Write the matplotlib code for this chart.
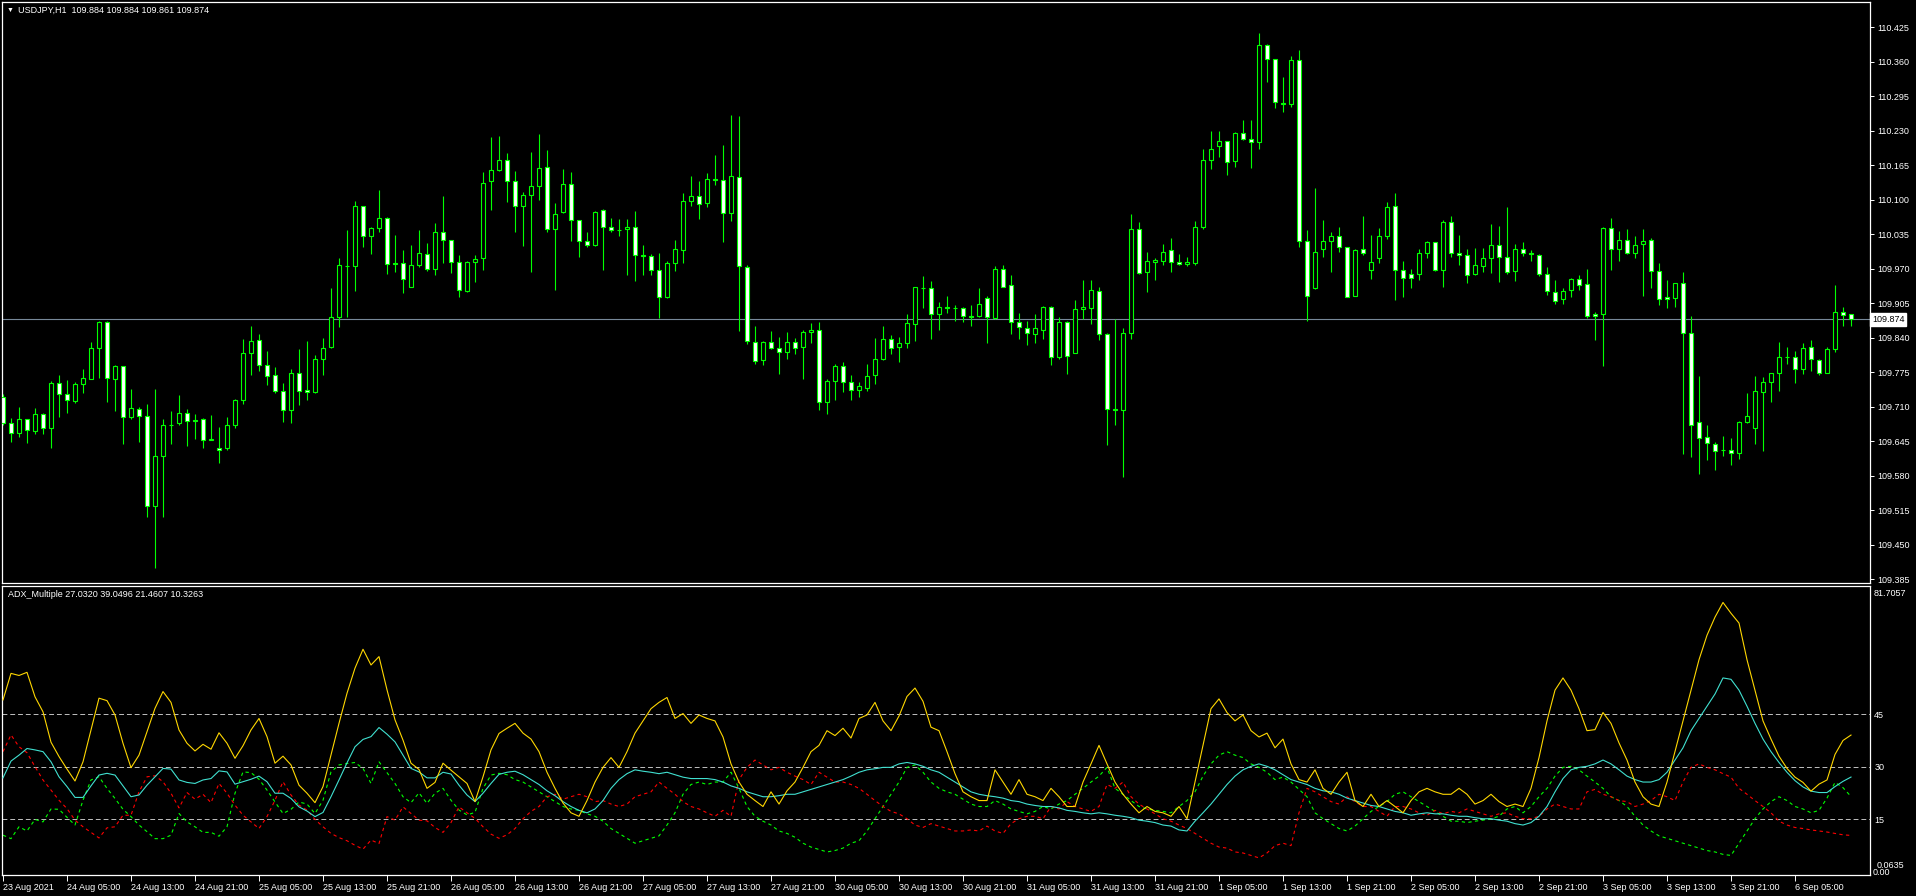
import numpy as np
import matplotlib
matplotlib.use("Agg")
from matplotlib import pyplot as plt

# USDJPY H1, 23 Aug 2021 21:00 .. 6 Sep 12:00
opens = [109.727, 109.678, 109.661, 109.686, 109.663, 109.695, 109.669, 109.754, 109.733, 109.721,
         109.752, 109.761, 109.820, 109.869, 109.761, 109.786, 109.690, 109.705, 109.692, 109.523,
         109.616, 109.676, 109.678, 109.697, 109.684, 109.686, 109.646, 109.632, 109.631, 109.676,
         109.722, 109.810, 109.835, 109.788, 109.769, 109.740, 109.703, 109.773, 109.742, 109.737,
         109.799, 109.822, 109.878, 109.974, 109.974, 110.087, 110.031, 110.046, 110.066, 109.980,
         109.980, 109.936, 109.976, 109.997, 109.970, 110.038, 110.023, 109.982, 109.927, 109.982,
         109.989, 110.134, 110.155, 110.174, 110.134, 110.087, 110.108, 110.125, 110.162, 110.044,
         110.076, 110.129, 110.061, 110.021, 110.014, 110.080, 110.048, 110.042, 110.044, 110.048,
         109.995, 109.993, 109.968, 109.916, 109.980, 110.004, 110.097, 110.106, 110.093, 110.138,
         110.136, 110.074, 110.142, 109.972, 109.831, 109.797, 109.831, 109.820, 109.812, 109.831,
         109.822, 109.850, 109.854, 109.718, 109.759, 109.786, 109.756, 109.742, 109.744, 109.769,
         109.799, 109.837, 109.822, 109.829, 109.865, 109.934, 109.933, 109.884, 109.897, 109.895,
         109.895, 109.880, 109.880, 109.914, 109.876, 109.970, 109.938, 109.870, 109.857, 109.846,
         109.855, 109.898, 109.803, 109.870, 109.810, 109.893, 109.895, 109.927, 109.846, 109.705,
         109.703, 109.848, 110.044, 109.963, 109.982, 109.984, 110.004, 109.982, 109.978, 109.980,
         110.049, 110.174, 110.200, 110.210, 110.172, 110.225, 110.214, 110.208, 110.392, 110.364,
         110.281, 110.279, 110.362, 110.021, 109.933, 110.006, 110.021, 110.032, 110.010, 109.919,
         110.006, 109.968, 109.989, 110.031, 110.087, 109.968, 109.959, 109.959, 110.000, 110.019,
         109.968, 110.057, 109.999, 109.995, 109.959, 109.974, 109.989, 110.014, 109.991, 109.965,
         110.006, 109.999, 109.995, 109.959, 109.925, 109.912, 109.929, 109.951, 109.940, 109.884,
         109.884, 110.046, 110.006, 110.023, 109.999, 110.016, 110.023, 109.965, 109.916, 109.914,
         109.942, 109.848, 109.680, 109.652, 109.639, 109.629, 109.629, 109.622, 109.680, 109.669,
         109.738, 109.757, 109.773, 109.803, 109.803, 109.780, 109.822, 109.797, 109.774, 109.818,
         109.889, 109.884]
highs = [109.734, 109.688, 109.709, 109.686, 109.707, 109.698, 109.759, 109.769, 109.760, 109.757,
         109.781, 109.832, 109.872, 109.872, 109.788, 109.786, 109.743, 109.709, 109.715, 109.743,
         109.686, 109.702, 109.732, 109.705, 109.695, 109.688, 109.694, 109.671, 109.690, 109.724,
         109.837, 109.862, 109.846, 109.815, 109.784, 109.754, 109.781, 109.818, 109.833, 109.807,
         109.839, 109.933, 109.990, 110.043, 110.097, 110.088, 110.048, 110.118, 110.067, 110.033,
         110.005, 110.014, 110.043, 110.018, 110.055, 110.107, 110.024, 109.995, 109.984, 109.995,
         110.151, 110.218, 110.220, 110.188, 110.154, 110.115, 110.189, 110.223, 110.193, 110.093,
         110.157, 110.152, 110.061, 110.039, 110.078, 110.082, 110.065, 110.063, 110.063, 110.078,
         110.014, 109.997, 109.999, 109.984, 110.024, 110.112, 110.144, 110.135, 110.150, 110.184,
         110.203, 110.259, 110.257, 109.976, 109.862, 109.833, 109.852, 109.841, 109.850, 109.839,
         109.855, 109.867, 109.869, 109.761, 109.791, 109.793, 109.769, 109.757, 109.790, 109.839,
         109.861, 109.844, 109.841, 109.884, 109.936, 109.955, 109.946, 109.906, 109.919, 109.902,
         109.897, 109.902, 109.933, 109.919, 109.974, 109.976, 109.957, 109.887, 109.872, 109.885,
         109.899, 109.900, 109.878, 109.871, 109.910, 109.948, 109.948, 109.936, 109.848, 109.874,
         109.857, 110.072, 110.057, 110.002, 109.989, 110.016, 110.027, 109.997, 109.991, 110.059,
         110.195, 110.230, 110.230, 110.210, 110.227, 110.249, 110.249, 110.413, 110.393, 110.365,
         110.330, 110.370, 110.381, 110.042, 110.121, 110.061, 110.038, 110.048, 110.010, 110.006,
         110.068, 110.034, 110.046, 110.095, 110.112, 109.985, 109.970, 110.006, 110.021, 110.020,
         110.061, 110.068, 110.034, 110.006, 110.008, 110.008, 110.053, 110.051, 110.085, 110.017,
         110.019, 110.004, 109.997, 109.972, 109.948, 109.934, 109.953, 109.957, 109.970, 109.889,
         110.048, 110.065, 110.040, 110.044, 110.031, 110.044, 110.027, 109.980, 109.948, 109.943,
         109.963, 109.880, 109.767, 109.676, 109.644, 109.654, 109.650, 109.682, 109.735, 109.767,
         109.765, 109.774, 109.831, 109.822, 109.814, 109.829, 109.835, 109.799, 109.822, 109.938,
         109.897, 109.884]
lows = [109.676, 109.644, 109.653, 109.641, 109.658, 109.659, 109.632, 109.691, 109.698, 109.716,
        109.736, 109.761, 109.764, 109.719, 109.702, 109.640, 109.686, 109.644, 109.502, 109.406,
        109.501, 109.640, 109.676, 109.636, 109.648, 109.631, 109.646, 109.604, 109.629, 109.670,
        109.714, 109.770, 109.776, 109.751, 109.735, 109.681, 109.678, 109.712, 109.723, 109.735,
        109.770, 109.820, 109.860, 109.879, 109.928, 110.011, 109.998, 110.038, 109.960, 109.964,
        109.923, 109.936, 109.973, 109.966, 109.957, 109.980, 109.962, 109.917, 109.925, 109.945,
        109.968, 110.081, 110.154, 110.096, 110.039, 110.013, 109.964, 110.100, 110.039, 109.930,
        110.074, 110.022, 109.992, 110.010, 110.013, 109.968, 110.038, 110.032, 109.957, 109.947,
        109.957, 109.958, 109.877, 109.915, 109.966, 109.980, 110.088, 110.064, 110.085, 110.128,
        110.019, 110.060, 109.853, 109.827, 109.791, 109.788, 109.818, 109.771, 109.799, 109.808,
        109.761, 109.829, 109.703, 109.695, 109.722, 109.737, 109.722, 109.727, 109.739, 109.752,
        109.798, 109.808, 109.793, 109.820, 109.833, 109.895, 109.837, 109.854, 109.887, 109.872,
        109.870, 109.861, 109.879, 109.829, 109.875, 109.935, 109.846, 109.838, 109.825, 109.829,
        109.838, 109.789, 109.799, 109.771, 109.810, 109.874, 109.865, 109.835, 109.638, 109.675,
        109.578, 109.837, 109.959, 109.925, 109.948, 109.976, 109.963, 109.977, 109.974, 109.977,
        110.044, 110.157, 110.181, 110.147, 110.162, 110.212, 110.159, 110.195, 110.321, 110.272,
        110.264, 110.274, 110.010, 109.872, 109.932, 109.991, 109.963, 110.002, 109.917, 109.919,
        109.995, 109.950, 109.980, 110.025, 109.910, 109.917, 109.934, 109.949, 109.989, 109.965,
        109.936, 109.991, 109.976, 109.942, 109.957, 109.963, 109.961, 109.944, 109.959, 109.946,
        109.993, 109.984, 109.955, 109.921, 109.904, 109.904, 109.916, 109.929, 109.876, 109.835,
        109.786, 109.967, 109.984, 109.997, 109.989, 109.919, 109.933, 109.901, 109.895, 109.897,
        109.620, 109.614, 109.582, 109.609, 109.590, 109.616, 109.599, 109.612, 109.678, 109.639,
        109.627, 109.719, 109.739, 109.791, 109.755, 109.771, 109.776, 109.769, 109.773, 109.812,
        109.862, 109.861]
closes = [109.678, 109.661, 109.686, 109.665, 109.695, 109.669, 109.754, 109.733, 109.722, 109.752,
          109.763, 109.820, 109.869, 109.763, 109.786, 109.690, 109.707, 109.692, 109.523, 109.617,
          109.676, 109.676, 109.697, 109.682, 109.683, 109.646, 109.648, 109.629, 109.676, 109.722,
          109.810, 109.833, 109.788, 109.767, 109.740, 109.703, 109.773, 109.740, 109.737, 109.799,
          109.820, 109.878, 109.976, 109.974, 110.087, 110.031, 110.046, 110.066, 109.978, 109.978,
          109.950, 109.976, 109.999, 109.970, 110.038, 110.023, 109.982, 109.929, 109.982, 109.987,
          110.132, 110.155, 110.174, 110.134, 110.087, 110.108, 110.125, 110.159, 110.044, 110.072,
          110.129, 110.061, 110.021, 110.014, 110.076, 110.049, 110.042, 110.042, 110.048, 109.995,
          109.994, 109.968, 109.916, 109.980, 110.006, 110.097, 110.106, 110.091, 110.138, 110.137,
          110.074, 110.144, 109.974, 109.833, 109.795, 109.831, 109.820, 109.812, 109.831, 109.820,
          109.850, 109.855, 109.718, 109.759, 109.786, 109.757, 109.742, 109.748, 109.767, 109.799,
          109.837, 109.820, 109.829, 109.867, 109.935, 109.933, 109.884, 109.897, 109.896, 109.895,
          109.880, 109.879, 109.904, 109.878, 109.970, 109.936, 109.870, 109.859, 109.848, 109.857,
          109.898, 109.803, 109.870, 109.806, 109.893, 109.897, 109.929, 109.846, 109.705, 109.704,
          109.848, 110.044, 109.961, 109.984, 109.986, 110.002, 109.982, 109.978, 109.982, 110.049,
          110.174, 110.196, 110.210, 110.170, 110.225, 110.214, 110.208, 110.392, 110.364, 110.283,
          110.280, 110.362, 110.021, 109.919, 110.002, 110.021, 110.032, 110.010, 109.917, 110.004,
          109.999, 109.982, 110.031, 110.085, 109.968, 109.953, 109.953, 110.000, 110.019, 109.967,
          110.057, 109.999, 109.995, 109.957, 109.976, 109.989, 110.014, 109.991, 109.963, 110.006,
          109.999, 109.997, 109.959, 109.927, 109.908, 109.927, 109.951, 109.938, 109.880, 109.880,
          110.046, 110.006, 110.023, 109.999, 110.014, 110.021, 109.965, 109.912, 109.912, 109.942,
          109.848, 109.676, 109.650, 109.641, 109.627, 109.628, 109.622, 109.680, 109.693, 109.740,
          109.757, 109.773, 109.803, 109.803, 109.780, 109.820, 109.799, 109.773, 109.818, 109.889,
          109.882, 109.874]

# ADX_Multiple buffers (cyan ADX, gold fast ADX, green +DI, red -DI)
adx_main = [26.8, 31.6, 33.3, 35.2, 34.8, 34.3, 31.4, 27.1, 24.3, 21.2, 21.2, 24.5, 27.6, 28.1, 27.6,
            24.5, 21.4, 21.9, 24.7, 27.1, 29.5, 29.3, 26.2, 25.5, 25.2, 26.2, 26.6, 28.8, 28.5, 25.0,
            25.7, 26.4, 27.3, 25.7, 22.4, 22.4, 20.9, 18.5, 17.3, 15.7, 16.9, 21.4, 26.2, 31.1, 35.7,
            37.8, 38.6, 41.2, 39.3, 37.1, 33.3, 29.5, 28.5, 26.8, 26.8, 28.4, 27.9, 24.7, 21.9, 20.0,
            22.4, 25.2, 27.8, 28.4, 28.7, 27.7, 26.3, 24.9, 23.1, 21.7, 20.0, 18.6, 17.5, 16.8, 17.9,
            20.3, 23.8, 26.3, 28.0, 29.1, 28.7, 28.4, 28.0, 28.4, 27.7, 27.0, 26.6, 26.6, 26.6, 26.3,
            25.6, 24.5, 23.8, 22.8, 22.1, 21.4, 21.4, 21.7, 22.1, 22.1, 22.8, 23.5, 24.2, 24.9, 25.6,
            26.3, 27.3, 28.4, 29.1, 29.4, 29.8, 29.8, 30.8, 31.2, 30.8, 30.1, 29.1, 28.4, 27.0, 25.6,
            24.2, 22.8, 22.1, 21.7, 21.4, 21.0, 20.3, 20.0, 19.3, 18.9, 18.6, 18.6, 18.2, 17.5, 17.2,
            16.8, 16.5, 16.8, 16.5, 16.1, 15.8, 15.4, 14.7, 14.4, 14.0, 13.3, 13.0, 11.9, 11.6, 14.4,
            16.8, 19.3, 22.1, 24.9, 27.3, 29.1, 30.1, 30.8, 30.1, 29.1, 27.7, 26.3, 25.6, 24.9, 23.8,
            23.1, 22.8, 22.1, 21.0, 20.3, 19.6, 18.9, 18.6, 17.9, 17.2, 16.8, 16.1, 16.5, 16.8, 16.5,
            16.5, 16.1, 15.8, 15.8, 15.4, 15.1, 15.1, 14.7, 14.4, 13.7, 13.3, 14.0, 15.8, 18.6, 22.8,
            26.6, 29.1, 29.8, 30.1, 30.8, 31.9, 30.8, 29.1, 27.3, 26.3, 25.6, 25.6, 26.3, 28.4, 31.9,
            35.4, 40.3, 43.8, 47.3, 50.8, 55.4, 55.0, 51.9, 47.3, 42.4, 37.9, 34.3, 31.2, 28.4, 26.0,
            24.2, 23.0, 22.6, 22.6, 24.3, 25.8, 27.032]
adx_fast = [49.1, 56.7, 56.1, 57.0, 50.0, 45.7, 37.0, 32.9, 29.3, 25.9, 31.4, 40.5, 49.6, 48.9, 44.8,
            36.7, 29.7, 33.3, 40.0, 46.7, 51.5, 48.4, 40.5, 36.7, 34.5, 36.4, 35.0, 39.7, 36.7, 32.4,
            36.0, 40.5, 43.8, 38.6, 31.0, 33.0, 30.5, 24.7, 22.4, 19.7, 24.3, 33.3, 42.4, 51.0, 58.2,
            63.6, 59.1, 61.5, 52.0, 43.4, 37.6, 31.0, 29.2, 23.8, 25.5, 31.0, 29.0, 27.1, 25.2, 20.0,
            27.1, 34.8, 39.5, 41.0, 42.4, 39.6, 37.9, 34.3, 28.4, 23.8, 19.6, 16.8, 15.8, 20.3, 25.6,
            29.8, 32.6, 29.8, 34.3, 39.6, 43.1, 46.6, 48.4, 49.8, 43.8, 45.2, 42.4, 44.8, 43.8, 43.1,
            38.5, 30.8, 25.6, 22.1, 20.3, 18.6, 22.8, 19.3, 23.1, 25.6, 29.8, 34.3, 36.1, 40.3, 38.9,
            41.0, 38.2, 43.8, 44.8, 48.4, 43.1, 40.3, 44.5, 50.1, 52.5, 48.7, 41.3, 40.3, 34.3, 28.0,
            22.8, 21.4, 20.3, 20.3, 29.1, 25.6, 22.1, 26.3, 22.1, 21.4, 20.3, 23.8, 21.4, 18.6, 18.6,
            25.6, 30.8, 36.1, 30.8, 25.6, 22.1, 19.3, 16.8, 18.6, 17.2, 16.8, 15.8, 18.6, 15.1, 25.6,
            36.1, 46.6, 49.4, 45.5, 43.1, 44.8, 40.3, 38.5, 39.6, 35.4, 37.9, 30.8, 26.3, 25.6, 29.1,
            23.8, 22.1, 25.6, 28.4, 20.3, 18.6, 22.1, 18.6, 20.3, 18.6, 16.8, 20.3, 22.8, 23.8, 22.8,
            22.1, 22.1, 23.8, 22.1, 19.3, 20.3, 22.1, 20.0, 18.6, 19.3, 18.6, 23.8, 32.6, 43.1, 51.9,
            55.4, 51.9, 46.6, 40.3, 40.6, 45.5, 42.4, 36.8, 31.9, 25.6, 21.4, 19.3, 18.6, 25.6, 34.3,
            43.1, 51.9, 60.6, 67.6, 72.8, 77.0, 73.9, 71.1, 60.6, 51.9, 43.1, 37.9, 33.0, 29.5, 27.0,
            25.5, 23.0, 25.0, 26.2, 33.5, 37.5, 39.0496]
plus_di = [10.4, 9.4, 12.8, 11.6, 14.9, 14.2, 17.9, 17.8, 15.5, 13.3, 20.4, 26.2, 27.1, 23.8, 20.9,
           17.8, 15.7, 13.3, 11.4, 9.4, 9.4, 10.4, 16.6, 14.2, 12.8, 11.2, 11.2, 10.1, 12.8, 22.4,
           28.5, 28.3, 26.4, 23.3, 19.9, 16.6, 17.8, 19.9, 19.3, 16.6, 20.4, 28.5, 30.5, 30.9, 31.2,
           29.5, 25.2, 31.4, 28.3, 25.2, 21.4, 19.7, 22.5, 19.5, 22.4, 23.8, 20.4, 17.6, 16.2, 16.9,
           23.8, 27.6, 28.1, 27.7, 26.3, 25.6, 24.2, 22.8, 21.4, 20.0, 18.6, 17.9, 17.5, 16.5, 15.8,
           14.4, 12.3, 10.9, 9.5, 8.1, 8.8, 9.5, 10.2, 13.3, 16.8, 22.1, 24.9, 25.6, 24.9, 25.6,
           25.6, 28.4, 23.8, 18.6, 15.8, 14.4, 13.3, 11.6, 10.9, 9.8, 8.1, 7.0, 6.3, 5.6, 6.0,
           6.7, 8.1, 8.8, 11.6, 15.1, 18.6, 22.1, 25.6, 29.8, 30.5, 28.4, 25.6, 23.8, 22.8, 22.1,
           20.7, 19.3, 18.6, 18.6, 20.3, 19.3, 17.9, 17.2, 16.5, 17.2, 18.6, 17.9, 19.3, 20.3, 22.1,
           23.8, 25.6, 27.3, 29.8, 23.8, 22.1, 20.3, 18.6, 17.9, 17.5, 17.2, 16.8, 18.6, 20.3, 22.8,
           27.3, 30.8, 33.3, 34.3, 33.3, 32.6, 30.8, 29.8, 28.4, 26.3, 27.0, 25.6, 23.5, 21.4, 16.8,
           15.1, 13.7, 12.3, 11.6, 13.0, 15.1, 17.2, 18.6, 20.0, 22.1, 22.8, 21.4, 20.0, 18.6, 17.2,
           15.8, 14.4, 14.4, 14.0, 14.4, 14.7, 15.1, 15.8, 17.9, 18.6, 16.8, 18.6, 21.4, 23.8, 27.3,
           29.8, 30.1, 29.1, 27.3, 25.6, 23.8, 21.4, 20.3, 18.6, 15.8, 13.3, 11.6, 10.2, 9.5, 8.8,
           8.1, 7.4, 6.7, 6.0, 5.6, 4.9, 4.6, 8.1, 11.6, 15.1, 17.9, 20.0, 21.4, 20.3, 18.6,
           17.9, 16.8, 17.5, 21.0, 25.5, 24.0, 21.4607]
minus_di = [34.3, 39.1, 35.7, 34.0, 30.0, 26.2, 23.3, 20.4, 18.0, 14.7, 12.8, 11.2, 9.6, 12.5, 12.8,
            16.1, 16.1, 22.8, 27.1, 27.4, 25.7, 22.4, 18.2, 22.6, 20.7, 22.1, 19.7, 25.2, 22.4, 19.0,
            16.1, 14.2, 12.3, 15.7, 20.4, 25.7, 21.9, 19.0, 17.6, 14.9, 12.8, 10.9, 9.7, 8.8, 7.5,
            6.4, 9.0, 8.0, 15.7, 14.7, 18.5, 16.6, 14.7, 14.5, 12.6, 11.2, 14.0, 18.5, 16.8, 15.2,
            12.8, 10.7, 9.5, 10.5, 12.3, 15.1, 17.2, 18.6, 21.4, 22.1, 20.7, 21.4, 22.1, 21.4, 20.0,
            20.3, 19.3, 18.6, 19.3, 21.4, 22.1, 22.8, 25.6, 23.8, 22.1, 20.0, 18.6, 17.9, 16.8, 15.8,
            17.5, 15.8, 26.3, 29.8, 31.9, 30.5, 29.1, 29.8, 28.4, 27.3, 26.3, 24.9, 28.4, 27.0, 25.6,
            25.6, 24.9, 23.8, 22.1, 20.3, 18.6, 17.2, 16.5, 15.1, 13.3, 12.6, 13.7, 13.0, 12.3, 11.6,
            11.6, 11.9, 11.6, 13.0, 11.6, 10.9, 13.7, 15.1, 15.8, 15.8, 15.1, 18.6, 17.9, 20.0, 18.6,
            17.9, 17.2, 18.6, 24.9, 23.8, 25.6, 21.4, 19.3, 17.9, 16.5, 15.1, 14.4, 13.3, 12.3, 10.9,
            9.5, 8.1, 7.0, 6.7, 5.6, 5.3, 4.6, 3.9, 5.3, 7.4, 8.1, 7.4, 16.8, 23.8, 22.8,
            21.4, 20.0, 19.3, 21.4, 20.0, 18.6, 18.6, 17.2, 15.8, 18.6, 18.6, 17.9, 16.8, 16.1, 17.5,
            16.5, 17.2, 16.8, 17.9, 17.2, 16.5, 15.8, 16.5, 16.8, 15.8, 15.1, 15.1, 15.8, 17.9, 19.3,
            18.6, 17.9, 17.9, 22.8, 23.5, 22.1, 21.4, 20.3, 20.0, 18.6, 19.3, 20.3, 22.1, 21.4, 20.3,
            25.6, 29.8, 30.8, 29.8, 29.1, 28.0, 27.0, 23.8, 22.1, 20.3, 18.6, 16.8, 14.4, 13.3, 12.6,
            12.3, 11.9, 11.6, 11.3, 10.9, 10.5, 10.3263]

time_labels = ["23 Aug 2021", "24 Aug 05:00", "24 Aug 13:00", "24 Aug 21:00", "25 Aug 05:00",
               "25 Aug 13:00", "25 Aug 21:00", "26 Aug 05:00", "26 Aug 13:00", "26 Aug 21:00",
               "27 Aug 05:00", "27 Aug 13:00", "27 Aug 21:00", "30 Aug 05:00", "30 Aug 13:00",
               "30 Aug 21:00", "31 Aug 05:00", "31 Aug 13:00", "31 Aug 21:00", "1 Sep 05:00",
               "1 Sep 13:00", "1 Sep 21:00", "2 Sep 05:00", "2 Sep 13:00", "2 Sep 21:00",
               "3 Sep 05:00", "3 Sep 13:00", "3 Sep 21:00", "6 Sep 05:00"]
price_ticks = [110.425, 110.360, 110.295, 110.230, 110.165, 110.100, 110.035, 109.970, 109.905,
               109.840, 109.775, 109.710, 109.645, 109.580, 109.515, 109.450, 109.385]
adx_levels = [15, 30, 45]
last_price = 109.874

plt.rcParams['font.family'] = ['Liberation Sans', 'DejaVu Sans']
plt.rcParams['font.size'] = 6.5
W, H = 1916, 896
fig = plt.figure(figsize=(W / 100, H / 100), dpi=100, facecolor='black')

def box(top, bottom):
    # pixel rows -> figure fraction
    return [2 / W, 1 - bottom / H, 1868 / W, (bottom - top) / H]

ax = fig.add_axes(box(2, 583), facecolor='black')
ax2 = fig.add_axes(box(586, 875), facecolor='black')

o = np.array(opens); c = np.array(closes)
x = np.arange(len(o))
up = c >= o
lime = '#00ff00'

ax.vlines(x, lows, highs, color=lime, lw=0.8, zorder=2)
ax.bar(x, np.abs(c - o), bottom=np.minimum(o, c), width=0.55,
       color=np.where(up, 'black', 'white'), edgecolor=lime, linewidth=0.8, zorder=3)
ax.axhline(last_price, color='#778899', lw=0.8, zorder=1)

ax.set_xlim(-0.125, 233.375)
ax.set_ylim(109.3775, 110.4721)
ax.set_xticks([])
ax.yaxis.tick_right()
ax.set_yticks(price_ticks)
ax.set_yticklabels(['%.3f' % p for p in price_ticks])
ax.tick_params(axis='y', colors='white', length=3, width=0.7, pad=2, labelsize=6.5)
ax.text(1.001, last_price, '%.3f' % last_price, transform=ax.get_yaxis_transform(),
        color='black', va='center', ha='left', fontsize=6.5,
        bbox=dict(facecolor='white', edgecolor='white', pad=1.2))

for a in (ax, ax2):
    for s in a.spines.values():
        s.set_color('white')
        s.set_linewidth(0.9)

# indicator pane
for lv in adx_levels:
    ax2.axhline(lv, color='#c0c0c0', lw=0.7, linestyle=(0, (5, 3)), zorder=1)
ax2.plot(x, adx_main, color='#40e0d0', lw=0.8, zorder=3)
ax2.plot(x, adx_fast, color='#ffd700', lw=0.8, zorder=4)
ax2.plot(x, plus_di, color=lime, lw=0.8, linestyle=(0, (3, 3)), zorder=2)
ax2.plot(x, minus_di, color='#ff0000', lw=0.8, linestyle=(0, (3, 3)), zorder=2)
ax2.set_xlim(-0.125, 233.375)
ax2.set_ylim(-1.0, 81.7057)
ax2.yaxis.tick_right()
ax2.set_yticks(adx_levels)
ax2.set_yticklabels([str(v) for v in adx_levels])
ax2.tick_params(axis='y', colors='white', length=0, pad=3, labelsize=6.5)
ax2.set_xticks(range(0, len(o), 8))
ax2.set_xticklabels(time_labels, ha='left')
ax2.tick_params(axis='x', colors='white', length=4, width=0.7, pad=2, labelsize=6.5)
yt = ax2.get_yaxis_transform()
ax2.text(1.002, 79.6, '81.7057', transform=yt, color='white', va='center', ha='left')
ax2.text(1.0015, -0.2, '0.00', transform=yt, color='white', va='center', ha='left')
ax2.text(1.0035, 1.6, '0.0635', transform=yt, color='white', va='center', ha='left')

fig.text(7 / W, 1 - 10 / H, '\u25bc', color='white', fontsize=5, va='center', ha='left')
fig.text(18 / W, 1 - 10 / H, 'USDJPY,H1  109.884 109.884 109.861 109.874',
         color='white', va='center', ha='left')
fig.text(8 / W, 1 - 594 / H, 'ADX_Multiple 27.0320 39.0496 21.4607 10.3263',
         color='white', va='center', ha='left')

fig.savefig('out.png', dpi=100, facecolor='black')
